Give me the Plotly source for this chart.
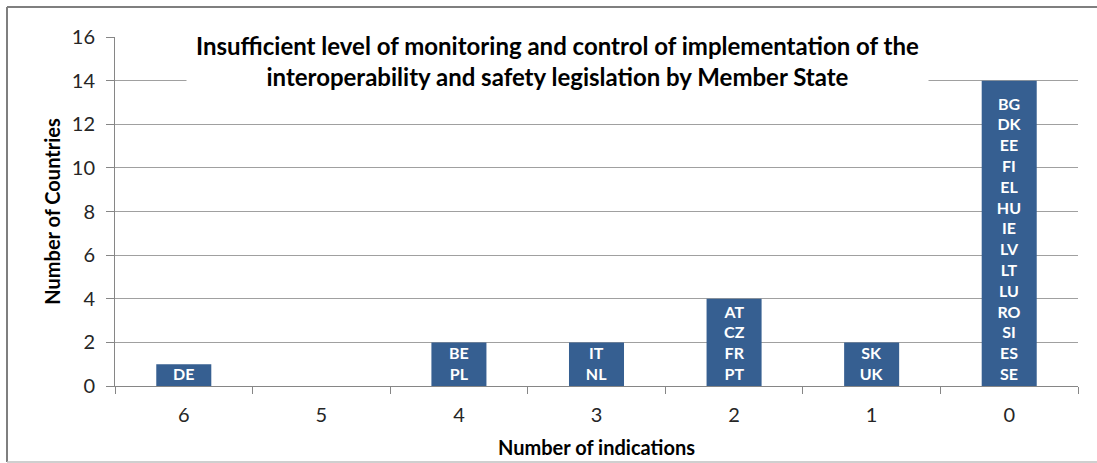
import plotly.graph_objects as go

indications = ["6", "5", "4", "3", "2", "1", "0"]
num_countries = [1, 0, 2, 2, 4, 2, 14]
country_codes = [
    ["DE"],
    [],
    ["BE", "PL"],
    ["IT", "NL"],
    ["AT", "CZ", "FR", "PT"],
    ["SK", "UK"],
    ["BG", "DK", "EE", "FI", "EL", "HU", "IE", "LV", "LT", "LU", "RO", "SI", "ES", "SE"],
]
y_ticks = [0, 2, 4, 6, 8, 10, 12, 14, 16]

title_text = ("Insufficient level of monitoring and control of implementation of the<br>"
              "interoperability and safety legislation by Member State")

W, H = 1097, 463
ml, mr, mt, mb = 115, 19, 37, 77
pw, ph = W - ml - mr, H - mt - mb

def px_x(p):
    return (p - ml) / pw

def px_y(p):
    return (H - mb - p) / ph

font_family = "Lato, 'Open Sans', sans-serif"
bar_color = "#365F91"

fig = go.Figure(go.Bar(
    x=indications,
    y=num_countries,
    text=["<br>".join(c) for c in country_codes],
    textposition="inside",
    insidetextanchor="start",
    constraintext="none",
    textangle=0,
    textfont=dict(family=font_family, size=16, color="white", weight="bold"),
    marker=dict(color=bar_color, line=dict(width=0)),
    hoverinfo="x+y",
))

# title sits inside the plot on a white box
fig.add_annotation(
    x=px_x(557), y=px_y(61), xref="paper", yref="paper",
    text="<b>" + title_text + "</b>",
    showarrow=False, align="center",
    font=dict(family=font_family, size=24, color="black"),
    bgcolor="white", borderpad=9,
    xanchor="center", yanchor="middle",
)

# chart border
border = [
    (7, 7, W + 5, 7, "#7F7F7F", 2),
    (7, 7, 7, 462, "#7F7F7F", 2),
    (7, 462, W + 5, 462, "#BFBFBF", 1.5),
]
for x0, y0, x1, y1, col, w in border:
    fig.add_shape(type="line", xref="paper", yref="paper",
                  x0=px_x(x0), y0=px_y(y0), x1=px_x(x1), y1=px_y(y1),
                  line=dict(color=col, width=w))

fig.update_layout(
    width=W, height=H,
    margin=dict(l=ml, r=mr, t=mt, b=mb),
    paper_bgcolor="white", plot_bgcolor="white",
    bargap=0.6,
    showlegend=False,
    font=dict(family=font_family, color="#262626"),
)
fig.update_xaxes(
    type="category", automargin=False,
    showline=True, linecolor="#868686", linewidth=1,
    ticks="outside", tickson="boundaries", ticklen=7, tickcolor="#868686",
    tickfont=dict(size=20, color="#262626"),
    ticklabelstandoff=11,
    title=dict(text="<b>Number of indications</b>", font=dict(size=20, color="black"), standoff=15),
    showgrid=False,
)
fig.update_yaxes(
    range=[0, 16], tickvals=y_ticks, automargin=False,
    showline=True, linecolor="#868686", linewidth=1,
    ticks="outside", ticklen=8, tickcolor="#868686",
    tickfont=dict(size=20, color="#262626"),
    ticklabelstandoff=7,
    showgrid=True, gridcolor="#A0A0A0", gridwidth=1,
    zeroline=False,
    title=dict(text="<b>Number of Countries</b>", font=dict(size=20, color="black"), standoff=5),
)

fig.write_html("out.html", config=dict(displayModeBar=False),
               post_script="document.body.style.margin='0px';")
